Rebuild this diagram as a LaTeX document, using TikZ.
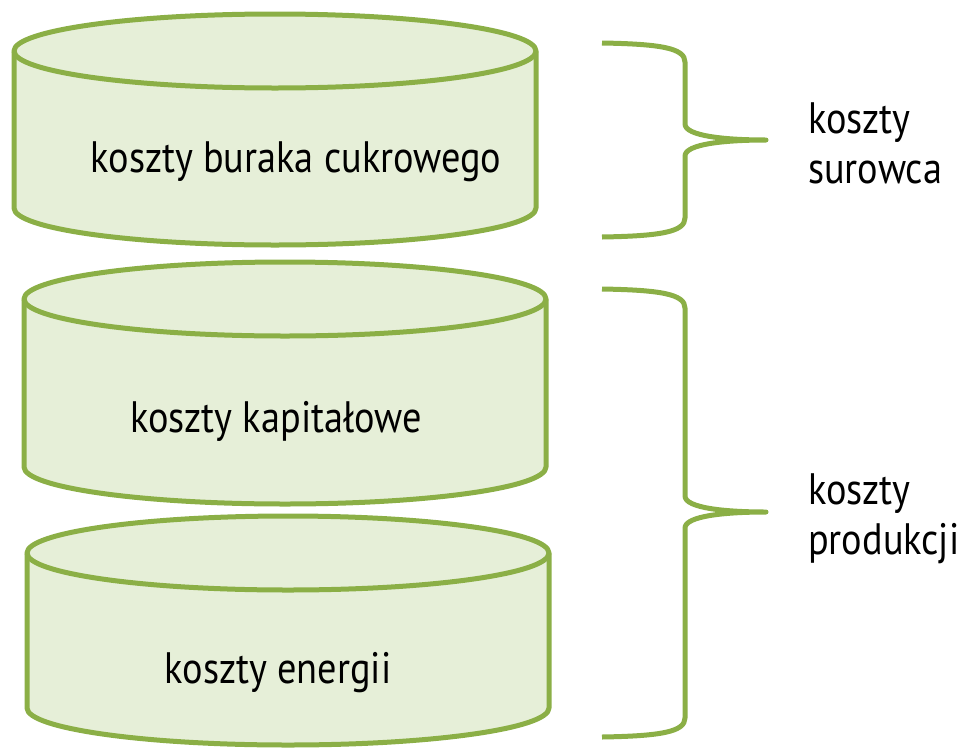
\documentclass[tikz,border=0pt]{standalone}
\usepackage{fontspec}
\setmainfont[FakeStretch=0.87]{PT Sans}
\definecolor{cylline}{HTML}{8BAF46}
\definecolor{cylfill}{HTML}{E6EFD8}
\begin{document}
\begin{tikzpicture}[x=1pt,y=-1pt,
  outl/.style={draw=cylline, line width=5pt, line join=round},
  cylbody/.style={outl, fill=cylfill},
  bracepath/.style={draw=cylline, line width=5pt, line join=round},
  lbl/.style={font=\fontsize{44}{50}\selectfont, inner sep=0pt, text=black}]
\useasboundingbox (0,0) rectangle (961,750);
% cylinder 1
\path[cylbody] (14,51) -- (14,208) arc[start angle=180,end angle=360,x radius=261pt,y radius=37pt]
  -- (536,51) arc[start angle=0,end angle=180,x radius=261pt,y radius=37pt] -- cycle;
\draw[outl] (14,51) arc[start angle=180,end angle=360,x radius=261pt,y radius=37pt];
% cylinder 2
\path[cylbody] (24,299) -- (24,467) arc[start angle=180,end angle=360,x radius=261pt,y radius=37pt]
  -- (546,299) arc[start angle=0,end angle=180,x radius=261pt,y radius=37pt] -- cycle;
\draw[outl] (24,299) arc[start angle=180,end angle=360,x radius=261pt,y radius=37pt];
% cylinder 3
\path[cylbody] (27,553) -- (27,708) arc[start angle=180,end angle=360,x radius=261pt,y radius=37pt]
  -- (549,553) arc[start angle=0,end angle=180,x radius=261pt,y radius=37pt] -- cycle;
\draw[outl] (27,553) arc[start angle=180,end angle=360,x radius=261pt,y radius=37pt];
% cylinder texts
\node[lbl, anchor=base] (t1) at (296,172) {koszty buraka cukrowego};
\node[lbl, anchor=base] (t2) at (276,432) {koszty kapitałowe};
\node[lbl, anchor=base] (t3) at (278,683) {koszty energii};
% braces
\coordinate (b1top) at (602,43);
\coordinate (b1tip) at (766,140);
\coordinate (b1bot) at (602,237);
\draw[bracepath] (b1top) .. controls (660,44) and (685,48) .. (685,62) -- (685,124)
  .. controls (685,136) and (725,140) .. (b1tip)
  .. controls (725,140) and (685,144) .. (685,156) -- (685,218)
  .. controls (685,232) and (660,236) .. (b1bot);
\coordinate (b2top) at (602,289);
\coordinate (b2tip) at (766,512);
\coordinate (b2bot) at (602,737);
\draw[bracepath] (b2top) .. controls (660,290) and (685,294) .. (685,308) -- (685,496)
  .. controls (685,508) and (725,512) .. (b2tip)
  .. controls (725,512) and (685,516) .. (685,528) -- (685,718)
  .. controls (685,732) and (660,736) .. (b2bot);
% brace labels
\node[lbl, anchor=base west] (l1a) at (808,133) {koszty};
\node[lbl, anchor=base west] (l1b) at (808,183) {surowca};
\node[lbl, anchor=base west] (l2a) at (808,504) {koszty};
\node[lbl, anchor=base west] (l2b) at (808,554) {produkcji};
\end{tikzpicture}
\end{document}
